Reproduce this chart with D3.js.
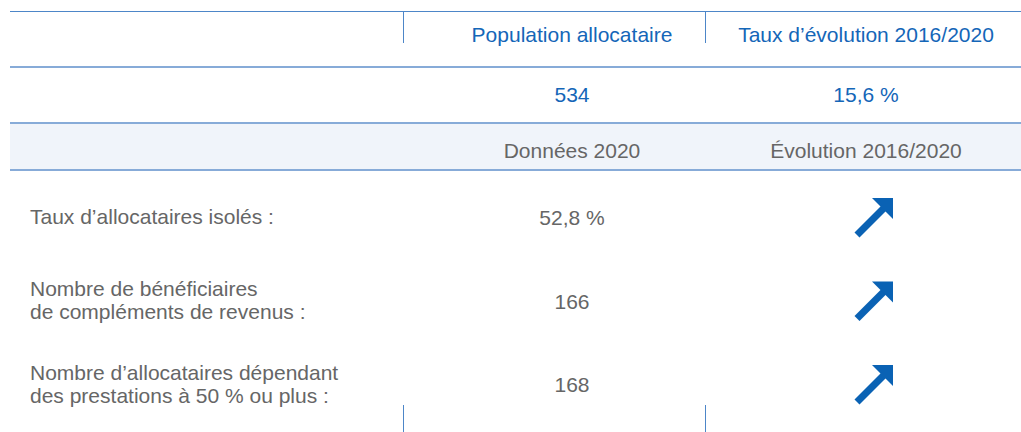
<!DOCTYPE html>
<html lang="fr">
<head>
<meta charset="UTF-8">
<title>Population allocataire</title>
<script src="https://cdn.jsdelivr.net/npm/d3@7/dist/d3.min.js"></script>
<style>
  body { margin: 0; background: #fff; }
  text { font-family: "Liberation Sans", Arial, sans-serif; }
</style>
</head>
<body>
<svg width="1021" height="432"></svg>
<script>
// données
var headers = ["Population allocataire", "Taux d\u2019évolution 2016/2020"];
var topValues = ["534", "15,6 %"];
var subHeaders = ["Données 2020", "Évolution 2016/2020"];
var rowLabels = [
  ["Taux d\u2019allocataires isolés :"],
  ["Nombre de bénéficiaires", "de compléments de revenus :"],
  ["Nombre d\u2019allocataires dépendant", "des prestations à 50 % ou plus :"]
];
var rowValues = ["52,8 %", "166", "168"];
var rowTrend = ["up", "up", "up"];

var blue = "#1466b8", grey = "#666666", lineBlue = "#4d86c8", lineLight = "#87abd8";

var svg = d3.select("svg");
var fs = 21;

// colonnes
var x = d3.scalePoint().domain([0, 1]).range([572, 866]);
var sep = [403, 705];
// lignes du bas (lignes de base)
var y = d3.scalePoint().domain(d3.range(rowValues.length)).range([225, 392]);

// lignes horizontales
svg.append("line").attr("x1", 10).attr("x2", 1021).attr("y1", 11.5).attr("y2", 11.5)
  .attr("stroke", lineBlue).attr("stroke-width", 1);
svg.append("rect").attr("x", 10).attr("y", 124).attr("width", 1011).attr("height", 46)
  .attr("fill", "#f0f4fa");
[67, 123, 170].forEach(function(v) {
  svg.append("line").attr("x1", 10).attr("x2", 1021).attr("y1", v).attr("y2", v)
    .attr("stroke", lineLight).attr("stroke-width", 2);
});
// séparateurs verticaux
sep.forEach(function(v) {
  svg.append("line").attr("x1", v + 0.5).attr("x2", v + 0.5).attr("y1", 11).attr("y2", 43)
    .attr("stroke", lineBlue);
  svg.append("line").attr("x1", v + 0.5).attr("x2", v + 0.5).attr("y1", 405).attr("y2", 432)
    .attr("stroke", lineBlue);
});

function centerText(arr, yy, color) {
  svg.append("g").selectAll("text").data(arr).enter().append("text")
    .attr("x", function(d, i) { return x(i); })
    .attr("y", yy)
    .attr("text-anchor", "middle")
    .attr("font-size", fs)
    .attr("fill", color)
    .text(function(d) { return d; });
}
centerText(headers, 42, blue);
centerText(topValues, 102, blue);
centerText(subHeaders, 158, grey);

// libellés des lignes
var rows = svg.append("g").selectAll("g").data(rowLabels).enter().append("g")
  .attr("transform", function(d, i) { return "translate(0," + y(i) + ")"; });

rows.selectAll("text.lbl").data(function(d) { return d; }).enter().append("text")
  .attr("class", "lbl")
  .attr("x", 30)
  .attr("y", function(d, i, n) { return (i - (n.length - 1) / 2) * 23 - 1; })
  .attr("font-size", fs)
  .attr("fill", grey)
  .text(function(d) { return d; });

rows.append("text")
  .attr("x", x(0))
  .attr("y", 0)
  .attr("text-anchor", "middle")
  .attr("font-size", fs)
  .attr("fill", grey)
  .text(function(d, i) { return rowValues[i]; });

// flèches
var arrows = rows.append("g")
  .attr("transform", "translate(" + (x(1) + 6) + ",-27)")
  .style("display", function(d, i) { return rowTrend[i] === "up" ? null : "none"; });
arrows.append("line")
  .attr("x1", -15).attr("y1", 37).attr("x2", 12).attr("y2", 10)
  .attr("stroke", "#0a62b4").attr("stroke-width", 7);
arrows.append("path")
  .attr("d", "M0,0L21,0L21,21Z")
  .attr("fill", "#0a62b4");
</script>
</body>
</html>
